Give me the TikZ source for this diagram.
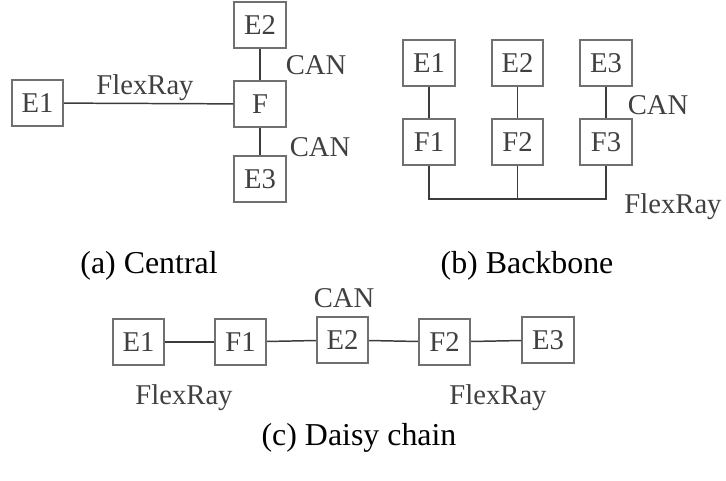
\documentclass[tikz,border=0pt]{standalone}
\usepackage{fontspec}
\setmainfont{Liberation Serif}
\usepackage{xcolor}

\definecolor{boxgray}{HTML}{707070}
\definecolor{wiregray}{HTML}{3C3C3C}
\definecolor{txtgray}{HTML}{404040}

\tikzset{
  ecu/.style={draw=boxgray,line width=0.75pt,minimum width=18.9pt,minimum height=17pt,inner sep=0pt,text=txtgray},
  wire/.style={draw=wiregray,line width=0.55pt},
  bus/.style={text=txtgray},
  subcap/.style={text=black,font=\fontsize{11.8}{14}\selectfont},
}

\begin{document}
\begin{tikzpicture}[x=0.37pt,y=-0.37pt,font=\fontsize{10.6}{12.5}\selectfont]
  \useasboundingbox (0,0) rectangle (726,481);

  % (a) central gateway
  \node[ecu] (aE1) at (37.5,103) {E1};
  \node[ecu] (aF)  at (260,104) {F};
  \node[ecu] (aE2) at (260,25) {E2};
  \node[ecu] (aE3) at (260,179) {E3};
  \draw[wire] (aE1) -- (aF);
  \draw[wire] (aE2) -- (aF);
  \draw[wire] (aF) -- (aE3);
  \node[bus] (aflex) at (145,88) {FlexRay};
  \node[bus] (acan1) at (316,65) {CAN};
  \node[bus] (acan2) at (320,147) {CAN};
  \node[subcap] (capa) at (149,266) {(a) Central};

  % (b) backbone
  \foreach \i/\x in {1/429,2/517.5,3/606}{
    \node[ecu] (bE\i) at (\x,63) {E\i};
    \node[ecu] (bF\i) at (\x,142) {F\i};
    \draw[wire] (bE\i) -- (bF\i);
  }
  \coordinate (bbus) at (0,199);
  \draw[wire] (bF1.south) |- (bbus -| bF3.south) -- (bF3.south);
  \draw[wire] (bF2.south) -- (bF2.south |- bbus);
  \node[bus] (bcan) at (658,105) {CAN};
  \node[bus] (bflex) at (673,207) {FlexRay};
  \node[subcap] (capb) at (527,266) {(b) Backbone};

  % (c) daisy chain
  \node[ecu] (cE1) at (138.5,342) {E1};
  \node[ecu] (cF1) at (240.5,342) {F1};
  \node[ecu] (cE2) at (342.5,340) {E2};
  \node[ecu] (cF2) at (444.5,342) {F2};
  \node[ecu] (cE3) at (548,340) {E3};
  \draw[wire] (cE1) -- (cF1);
  \draw[wire] (cF1) -- (cE2);
  \draw[wire] (cE2) -- (cF2);
  \draw[wire] (cF2) -- (cE3);
  \node[bus] (ccan) at (344,298) {CAN};
  \node[bus] (cflex1) at (184,398) {FlexRay};
  \node[bus] (cflex2) at (498,398) {FlexRay};
  \node[subcap] (capc) at (359,438) {(c) Daisy chain};
\end{tikzpicture}
\end{document}
